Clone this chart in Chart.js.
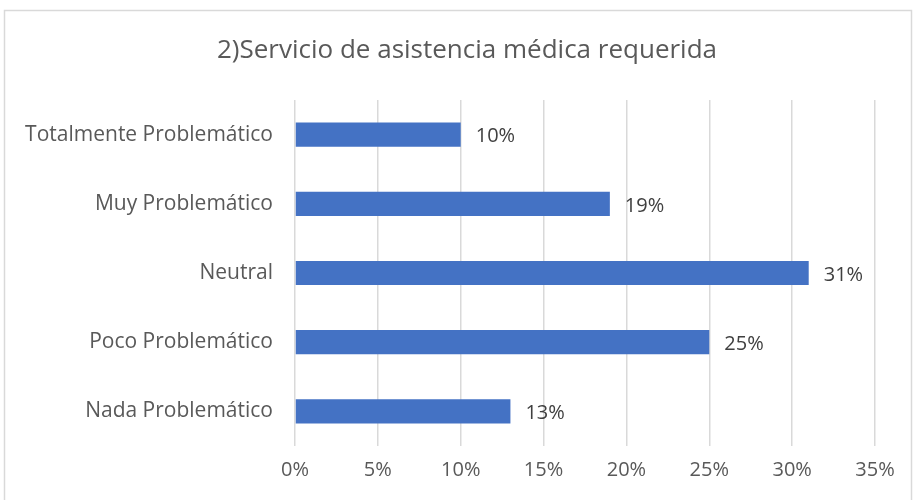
<!DOCTYPE html>
<html>
<head>
<meta charset="utf-8">
<script src="https://cdn.jsdelivr.net/npm/chart.js@4/dist/chart.umd.min.js"></script>
<style>
    body { margin: 0; background: #fff; }
    #wrap { position: relative; width: 915px; height: 500px; }
</style>
</head>
<body>
<div id="wrap"><canvas id="myChart" width="915" height="500"></canvas></div>
<script>
const categories = ["Totalmente Problemático", "Muy Problemático", "Neutral", "Poco Problemático", "Nada Problemático"];
const values = [10, 19, 31, 25, 13];
const tickValues = [0, 5, 10, 15, 20, 25, 30, 35];
const titleText = "2)Servicio de asistencia médica requerida";

const textColor = "#595959";
const fontFamily = "'Open Sans', Lato, sans-serif";

// light frame around the whole chart, plus the title centred on the frame
const framePlugin = {
    id: 'frame',
    beforeDraw(chart) {
        const ctx = chart.ctx;
        ctx.save();
        ctx.fillStyle = "#fff";
        ctx.fillRect(0, 0, chart.width, chart.height);
        ctx.strokeStyle = "#d9d9d9";
        ctx.lineWidth = 1.5;
        ctx.strokeRect(4.5, 10.5, 907, 500);
        ctx.fillStyle = textColor;
        ctx.font = "26px " + fontFamily;
        ctx.textAlign = "center";
        ctx.textBaseline = "middle";
        ctx.fillText(titleText, 467, 51);
        ctx.restore();
    }
};

// value labels at the end of each bar
const valueLabels = {
    id: 'valueLabels',
    afterDatasetsDraw(chart) {
        const ctx = chart.ctx;
        const meta = chart.getDatasetMeta(0);
        ctx.save();
        ctx.fillStyle = "#404040";
        ctx.font = "20px " + fontFamily;
        ctx.textAlign = "left";
        ctx.textBaseline = "middle";
        meta.data.forEach((bar, i) => {
            ctx.fillText(values[i] + "%", bar.x + 15, bar.y + 2);
        });
        ctx.restore();
    }
};

const ctx = document.getElementById('myChart').getContext('2d');
new Chart(ctx, {
    type: 'bar',
    data: {
        labels: categories,
        datasets: [{
            data: values,
            backgroundColor: "#4472c4",
            borderColor: "#4472c4",
            borderWidth: 0,
            categoryPercentage: 1.0,
            barPercentage: 0.35
        }]
    },
    options: {
        indexAxis: 'y',
        responsive: false,
        animation: false,
        layout: { padding: { left: 0, right: 40, top: 100, bottom: 0 } },
        plugins: {
            legend: { display: false },
            tooltip: { enabled: false },
            title: { display: false }
        },
        scales: {
            x: {
                min: 0,
                max: 35,
                afterBuildTicks: (axis) => {
                    axis.ticks = tickValues.map(v => ({ value: v }));
                },
                afterFit: (axis) => { axis.height = 54; },
                grid: { color: "#d9d9d9", lineWidth: 1.5, drawTicks: false },
                border: { display: false },
                ticks: {
                    color: textColor,
                    padding: 12,
                    font: { family: fontFamily, size: 20 },
                    callback: (v) => v + "%"
                }
            },
            y: {
                afterFit: (axis) => { axis.width = 295; },
                grid: { display: false, drawTicks: false },
                border: { display: false },
                ticks: {
                    color: textColor,
                    padding: 22,
                    font: { family: fontFamily, size: 21 }
                }
            }
        }
    },
    plugins: [framePlugin, valueLabels]
});
</script>
</body>
</html>
